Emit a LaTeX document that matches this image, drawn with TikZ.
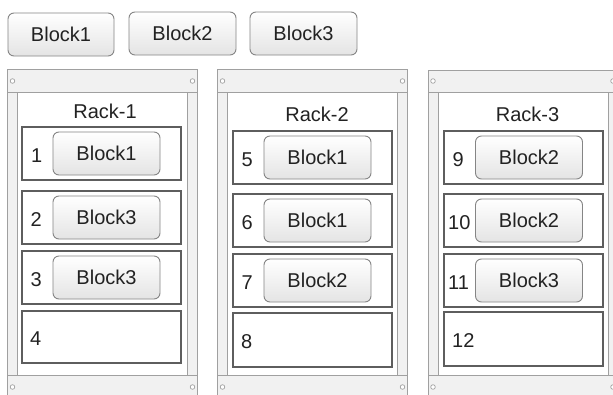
\documentclass[tikz,border=0pt]{standalone}
\usepackage{fontspec}
\setmainfont{Liberation Sans}
\definecolor{btnline}{HTML}{858585}
\definecolor{btnbot}{HTML}{E4E4E4}
\definecolor{txt}{HTML}{222222}
\definecolor{frameline}{HTML}{A0A0A0}
\definecolor{framefill}{HTML}{F1F1F1}
\definecolor{slotline}{HTML}{5E5E5E}
\begin{document}
\begin{tikzpicture}[x=1pt,y=-1pt,
  btn/.style={draw=btnline, rounded corners=6pt, top color=white, bottom color=btnbot,
    line width=0.9pt, minimum width=107pt, minimum height=43pt, inner sep=0pt,
    font=\fontsize{20}{24}\selectfont, text=txt},
  slotbox/.style={draw=slotline, fill=white, line width=1.1pt, minimum width=159pt,
    minimum height=53pt, inner sep=0pt},
  numlbl/.style={anchor=west, inner sep=0pt, font=\fontsize{20}{24}\selectfont, text=txt},
  racklbl/.style={inner sep=0pt, font=\fontsize{20}{24}\selectfont, text=txt},
  framepart/.style={draw=frameline, fill=framefill, line width=0.9pt},
  hole/.style={draw=frameline, fill=white, line width=0.7pt}]
\useasboundingbox (0,0) rectangle (613,394);
\clip (0,0) rectangle (613,394);
\fill[white] (0,0) rectangle (613,394);

% top palette
\node[btn, minimum width=106pt] (p1) at (61,34.5) {Block1};
\node[btn] (p2) at (182.5,33.5) {Block2};
\node[btn] (p3) at (303.5,33.5) {Block3};

% rack frames
\foreach \xo/\yt in {7.5/69.5, 217.5/69.5, 428/70.5} {
  \fill[white] (\xo,\yt) rectangle (\xo+190,400);
  \draw[framepart] (\xo,92) rectangle (\xo+10,375);
  \draw[framepart] (\xo+180,92) rectangle (\xo+190,375);
  \draw[framepart] (\xo,\yt) rectangle (\xo+190,92);
  \draw[framepart] (\xo,375) rectangle (\xo+190,402);
  \draw[hole] (\xo+5,81) circle (2.3);
  \draw[hole] (\xo+185,81) circle (2.3);
  \draw[hole] (\xo+5,387) circle (2.3);
  \draw[hole] (\xo+185,387) circle (2.3);
}

% rack labels
\node[racklbl] (r1) at (105,111.5) {Rack-1};
\node[racklbl] (r2) at (317,114) {Rack-2};
\node[racklbl] (r3) at (527.5,114) {Rack-3};

% Rack-1 slots
\node[slotbox] (s1) at (101.5,153.5) {};
\node[slotbox] (s2) at (101.5,217.5) {};
\node[slotbox] (s3) at (101.5,277.5) {};
\node[slotbox, minimum height=52pt] (s4) at (101.5,337) {};
\node[btn] (b1) at (106.5,153.5) {Block1};
\node[btn] (b2) at (106.5,217.5) {Block3};
\node[btn] (b3) at (106.5,277.5) {Block3};
\node[numlbl] (n1) at (31,155.5) {1};
\node[numlbl] (n2) at (30.5,219.5) {2};
\node[numlbl] (n3) at (30.5,279.5) {3};
\node[numlbl] (n4) at (30,339) {4};

% Rack-2 slots
\node[slotbox] (s5) at (312.5,157.5) {};
\node[slotbox] (s6) at (312.5,220.5) {};
\node[slotbox] (s7) at (312.5,280.5) {};
\node[slotbox, minimum height=54pt] (s8) at (312.5,340) {};
\node[btn] (b5) at (317.5,157.5) {Block1};
\node[btn] (b6) at (317.5,220.5) {Block1};
\node[btn] (b7) at (317.5,280.5) {Block2};
\node[numlbl] (n5) at (241.5,159.5) {5};
\node[numlbl] (n6) at (241.5,222.5) {6};
\node[numlbl] (n7) at (241.5,282.5) {7};
\node[numlbl] (n8) at (241,342) {8};

% Rack-3 slots
\node[slotbox] (s9) at (523.5,157.5) {};
\node[slotbox] (s10) at (523.5,220.5) {};
\node[slotbox] (s11) at (523.5,280.5) {};
\node[slotbox, minimum height=54pt] (s12) at (523.5,339) {};
\node[btn] (b9) at (529,157.5) {Block2};
\node[btn] (b10) at (529,220.5) {Block2};
\node[btn] (b11) at (529,280.5) {Block3};
\node[numlbl] (n9) at (452.5,159.5) {9};
\node[numlbl] (n10) at (448,222.5) {10};
\node[numlbl] (n11) at (448,282.5) {11};
\node[numlbl] (n12) at (452,341) {12};
\end{tikzpicture}
\end{document}
